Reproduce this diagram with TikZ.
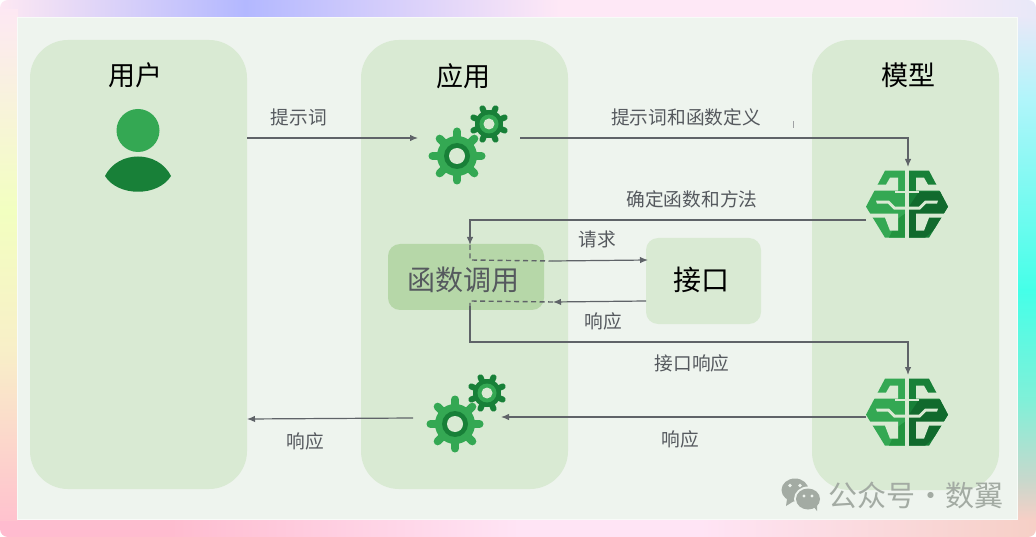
\documentclass[tikz,border=0pt]{standalone}
\usepackage{fontspec}
\setmainfont{Noto Sans CJK SC}
\usetikzlibrary{arrows.meta}
\definecolor{panel}{HTML}{EEF4EE}
\definecolor{col}{HTML}{D9EAD3}
\definecolor{fnbox}{HTML}{B6D7A8}
\definecolor{gl}{HTML}{34A853}
\definecolor{gm}{HTML}{23943F}
\definecolor{gd}{HTML}{188038}
\definecolor{gk}{HTML}{116A2D}
\definecolor{ink}{HTML}{5F6368}
\definecolor{wm}{HTML}{A3ABA3}
\definecolor{bgA}{HTML}{FDE8F3}
\definecolor{bgB}{HTML}{B3B8FF}
\definecolor{bgC}{HTML}{FEE8F6}
\definecolor{bgD}{HTML}{E8E8F8}
\definecolor{bgE}{HTML}{F2FFC0}
\definecolor{bgF}{HTML}{F8EFC8}
\definecolor{bgG}{HTML}{FFC2CE}
\definecolor{bgH}{HTML}{FFBBCF}
\definecolor{bgI}{HTML}{FFE4F5}
\definecolor{bgJ}{HTML}{F6CFC6}
\definecolor{bgK}{HTML}{B0F5FA}
\definecolor{bgL}{HTML}{45FFE8}
\definecolor{bgM}{HTML}{80F0D8}
\definecolor{bgN}{HTML}{C8D8CC}
\tikzset{
  columnbox/.style={fill=col,rounded corners=38pt},
  title/.style={font=\fontsize{27}{27}\selectfont,text=black},
  lab/.style={font=\fontsize{18.7}{18.7}\selectfont,text=ink!90!black},
  conn/.style={draw=ink,line width=1.2pt,-{Latex[length=8pt,width=6.5pt]}},
  dashline/.style={draw=ink,line width=1.4pt,dash pattern=on 5pt off 3.5pt},
}
\newcommand{\gearbig}[2]{%
  \begin{scope}[shift={(#1,#2)}]
    \foreach \a in {0,45,...,315}{\draw[gl,line width=8pt,line cap=round] (0,0) -- (\a:24.5);}
    \fill[gl] (0,0) circle (20);
    \fill[gd] (0,0) circle (13);
    \fill[col] (0,0) circle (8);
  \end{scope}}
\newcommand{\gearsmall}[2]{%
  \begin{scope}[shift={(#1,#2)}]
    \foreach \a in {22.5,67.5,...,337.5}{\draw[gd,line width=6pt,line cap=round] (0,0) -- (\a:17);}
    \fill[gd] (0,0) circle (14);
    \fill[gl] (0,0) circle (9.5);
    \fill[col] (0,0) circle (5.5);
  \end{scope}}
\newcommand{\brainsil}{(0,-36) -- (-22,-36) -- (-41,0) -- (-22,31) -- (0,31) -- cycle}
\newcommand{\brainchan}{%
  \fill[col] (-17,-29) -- (-9,-29) -- (-9,-16) -- (-45,-16) -- (-45,-22) -- (-21,-22) -- cycle;
  \fill[col] (-31,-6) -- (-18,-6) -- (-12,0) -- (-2,0) -- (-2,3) -- (-13,3) -- (-19,-3) -- (-30,-3) -- cycle;
  \fill[col] (-45,7) -- (-9,7) -- (-9,24) -- (-17,24) -- (-22,11) -- (-45,11) -- cycle;
  \fill[col] (-12,-16) -- (-2,-16) -- (-2,-13.5) -- (-12,-13.5) -- cycle;}
\newcommand{\brain}[2]{%
  \begin{scope}[shift={(#1,#2)}]
    \fill[gl] \brainsil;
    \fill[gm] (-2,7) -- (-9,12) -- (-18,31) -- (0,31) -- (0,7) -- cycle;
    \brainchan
    \begin{scope}[xscale=-1]
      \fill[gd] \brainsil;
      \begin{scope}
        \clip \brainsil;
        \fill[gk] (-45,-15) -- (-12,-15) -- (-2,0) -- (0,0) -- (0,31) -- (-18,31) -- (-45,7) -- cycle;
      \end{scope}
      \brainchan
    \end{scope}
    \fill[col] (-2,-40) rectangle (2,35);
  \end{scope}}
\begin{document}
\begin{tikzpicture}[x=1pt,y=-1pt]
\useasboundingbox (0,0) rectangle (1036,537);
\fill[white] (0,0) rectangle (1036,537);
\begin{scope}
\clip[rounded corners=8pt] (0,0) rectangle (1036,537);
\shade[left color=bgA,right color=bgB] (0,0) rectangle (245,18);
\shade[left color=bgB,right color=bgC] (245,0) rectangle (560,18);
\shade[left color=bgC,right color=bgC] (560,0) rectangle (900,18);
\shade[left color=bgC,right color=bgD] (900,0) rectangle (1036,18);
\shade[left color=bgH,right color=bgH] (0,519) rectangle (170,537);
\shade[left color=bgH,right color=bgI] (170,519) rectangle (520,537);
\shade[left color=bgI,right color=bgI] (520,519) rectangle (700,537);
\shade[left color=bgI,right color=bgJ] (700,519) rectangle (1036,537);
\shade[top color=bgA,bottom color=bgE] (0,10) rectangle (18,210);
\shade[top color=bgE,bottom color=bgF] (0,210) rectangle (18,350);
\shade[top color=bgF,bottom color=bgG] (0,350) rectangle (18,520);
\shade[top color=bgD,bottom color=bgK] (1017,18) rectangle (1036,100);
\shade[top color=bgK,bottom color=bgL] (1017,100) rectangle (1036,290);
\shade[top color=bgL,bottom color=bgM] (1017,290) rectangle (1036,400);
\shade[top color=bgM,bottom color=bgN] (1017,400) rectangle (1036,480);
\shade[top color=bgN,bottom color=bgJ] (1017,480) rectangle (1036,519);
\end{scope}
\fill[white!60!panel] (17,17) rectangle (1018,520);
\fill[panel] (18,18) rectangle (1017,519);
\fill[columnbox] (30,40) rectangle (247,489);
\fill[columnbox] (361,40) rectangle (568,489);
\fill[columnbox] (812,40) rectangle (999,490);
\fill[fnbox,rounded corners=12pt] (388,244) rectangle (544,310);
\fill[col,rounded corners=12pt] (646,238) rectangle (761,324);
\node[title] (tu) at (135,75) {用户};
\node[title] (ta) at (463,76) {应用};
\node[title] (tm) at (908,75) {模型};
\node[font=\fontsize{28}{28}\selectfont,text=ink!90!black] (fn) at (463,280) {函数调用};
\node[font=\fontsize{28}{28}\selectfont,text=black] (api) at (701,280) {接口};
\fill[gl] (138,130.5) circle (21.5);
\fill[gd] (105,176) .. controls (118,150) and (158,150) .. (171,176) .. controls (158,197) and (118,197) .. (105,176) -- cycle;
\gearbig{457}{156}\gearsmall{489}{124}
\gearbig{455}{424}\gearsmall{487}{393}
\brain{907}{206.7}
\brain{907}{414.7}
\coordinate (u1) at (247,138);
\coordinate (a1) at (418,138);
\coordinate (a2) at (520,138);
\coordinate (c1) at (908,138);
\coordinate (m1) at (908,167);
\coordinate (m2) at (866,220);
\coordinate (c2) at (470,220);
\coordinate (f1) at (470,245);
\coordinate (f2) at (470,260);
\coordinate (f3) at (552,261);
\coordinate (i1) at (648,260);
\coordinate (i2) at (646,301);
\coordinate (f4) at (553,302);
\coordinate (f5) at (470,301);
\coordinate (f6) at (470,306);
\coordinate (c3) at (470,342);
\coordinate (c4) at (908,342);
\coordinate (m3) at (908,375);
\coordinate (m4) at (866,417);
\coordinate (a3) at (501,417);
\coordinate (a4) at (413,418);
\coordinate (u2) at (247,419);
\coordinate (t1) at (793,121);
\coordinate (t2) at (793,128);
\draw[conn] (u1) -- (a1);
\draw[conn] (a2) -- (c1) -- (m1);
\draw[conn] (m2) -- (c2) -- (f1);
\draw[dashline] (f1) -- (f2) -- (f3);
\draw[conn] (f3) -- (i1);
\draw[conn] (i2) -- (f4);
\draw[dashline] (f4) -- (f5) -- (f6);
\draw[conn] (f6) -- (c3) -- (c4) -- (m3);
\draw[conn] (m4) -- (a3);
\draw[conn] (a4) -- (u2);
\draw[draw=ink!60,line width=0.6pt] (t1) -- (t2);
\node[lab] (l1) at (299,117) {提示词};
\node[lab] (l2) at (686,117) {提示词和函数定义};
\node[lab] (l3) at (692,199) {确定函数和方法};
\node[lab] (l4) at (597,239) {请求};
\node[lab] (l5) at (603,321) {响应};
\node[lab] (l6) at (692,363) {接口响应};
\node[lab] (l7) at (680,439) {响应};
\node[lab] (l8) at (305,441) {响应};
\fill[wm] (795,490) ellipse (13.5 and 11.5);
\fill[wm] (787,499) -- (786,506) -- (794,501) -- cycle;
\fill[panel] (808,499) ellipse (14 and 12.5);
\fill[wm] (808,499) ellipse (12 and 10.5);
\fill[wm] (813,506) -- (817,511) -- (817,503) -- cycle;
\fill[panel] (790,485.5) circle (1.8) (800,485.5) circle (1.8) (804,496) circle (1.6) (812,496) circle (1.6);
\node[font=\fontsize{29}{29}\selectfont,text=wm] (w) at (916,495) {公众号{\kern-6pt} · {\kern-6pt}数翼};
\end{tikzpicture}
\end{document}
